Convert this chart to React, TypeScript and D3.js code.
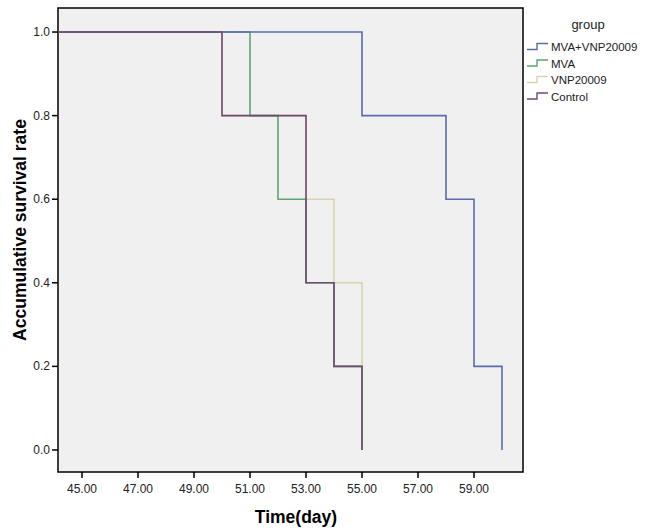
import * as d3 from "d3";

// Kaplan-Meier steps: [time, survival] – each value holds until the next time
const groups = ["MVA+VNP20009", "MVA", "VNP20009", "Control"];
const colors = ["#5b6bae", "#5aa772", "#d9d5ab", "#704a72"];
const mvaVnpSteps: [number, number][] = [[44.14, 1.0], [55, 0.8], [58, 0.6], [59, 0.2], [60, 0.0]];
const mvaSteps: [number, number][] = [[44.14, 1.0], [51, 0.8], [52, 0.6], [53, 0.4], [54, 0.2], [55, 0.0]];
const vnpSteps: [number, number][] = [[44.14, 1.0], [50, 0.8], [53, 0.6], [54, 0.4], [55, 0.0]];
const controlSteps: [number, number][] = [[44.14, 1.0], [50, 0.8], [53, 0.4], [54, 0.2], [55, 0.0]];
const xTicks = [45, 47, 49, 51, 53, 55, 57, 59];
const yTicks = [0, 0.2, 0.4, 0.6, 0.8, 1.0];

export default function App() {
  const width = 650;
  const height = 530;
  const left = 58, right = 523, top = 8, bottom = 472;

  const x = d3.scaleLinear().domain([44.143, 60.75]).range([left, right]);
  const y = d3.scaleLinear().domain([-0.0527, 1.0575]).range([bottom, top]);

  const line = d3.line<[number, number]>()
    .x(d => x(d[0]))
    .y(d => y(d[1]))
    .curve(d3.curveStepAfter);

  // draw order: lighter ones first so purple sits on top like in SPSS
  const series = [
    { name: groups[2], color: colors[2], steps: vnpSteps },
    { name: groups[1], color: colors[1], steps: mvaSteps },
    { name: groups[0], color: colors[0], steps: mvaVnpSteps },
    { name: groups[3], color: colors[3], steps: controlSteps },
  ];

  return (
    <svg width={width} height={height} style={{ position: "absolute", left: 0, top: 0, background: "#fff" }}
      fontFamily="Arial, 'Liberation Sans', sans-serif">
      <rect x={left} y={top} width={right - left} height={bottom - top} fill="#f0f0f0" stroke="#000" strokeWidth={1.5} />

      {series.map(s => (
        <path key={s.name} d={line(s.steps) || ""} fill="none" stroke={s.color} strokeWidth={1.6} />
      ))}

      {/* x axis */}
      {xTicks.map(t => (
        <g key={t}>
          <line x1={x(t)} x2={x(t)} y1={bottom} y2={bottom + 6} stroke="#000" strokeWidth={1.5} />
          <text x={x(t)} y={bottom + 21} textAnchor="middle" fontSize={12} fill="#222">{t.toFixed(2)}</text>
        </g>
      ))}
      <text x={296} y={523} textAnchor="middle" fontSize={17.5} fontWeight="bold" fill="#000">Time(day)</text>

      {/* y axis */}
      {yTicks.map(t => (
        <g key={t}>
          <line x1={left - 6} x2={left} y1={y(t)} y2={y(t)} stroke="#000" strokeWidth={1.5} />
          <text x={left - 8} y={y(t) + 4} textAnchor="end" fontSize={12} fill="#222">{t.toFixed(1)}</text>
        </g>
      ))}
      <text transform={`translate(26,230) rotate(-90)`} textAnchor="middle" fontSize={17.5} fontWeight="bold" fill="#000">
        Accumulative survival rate
      </text>

      {/* legend */}
      <text x={588} y={29} textAnchor="middle" fontSize={13} fill="#222">group</text>
      {groups.map((g, i) => {
        const cy = 46.5 + i * 16.5;
        return (
          <g key={g}>
            <path d={`M527,${cy + 3}H537V${cy - 3}H548`} fill="none" stroke={colors[i]} strokeWidth={1.4} />
            <text x={551} y={cy + 4.5} fontSize={11.5} fill="#222">{g}</text>
          </g>
        );
      })}
    </svg>
  );
}
